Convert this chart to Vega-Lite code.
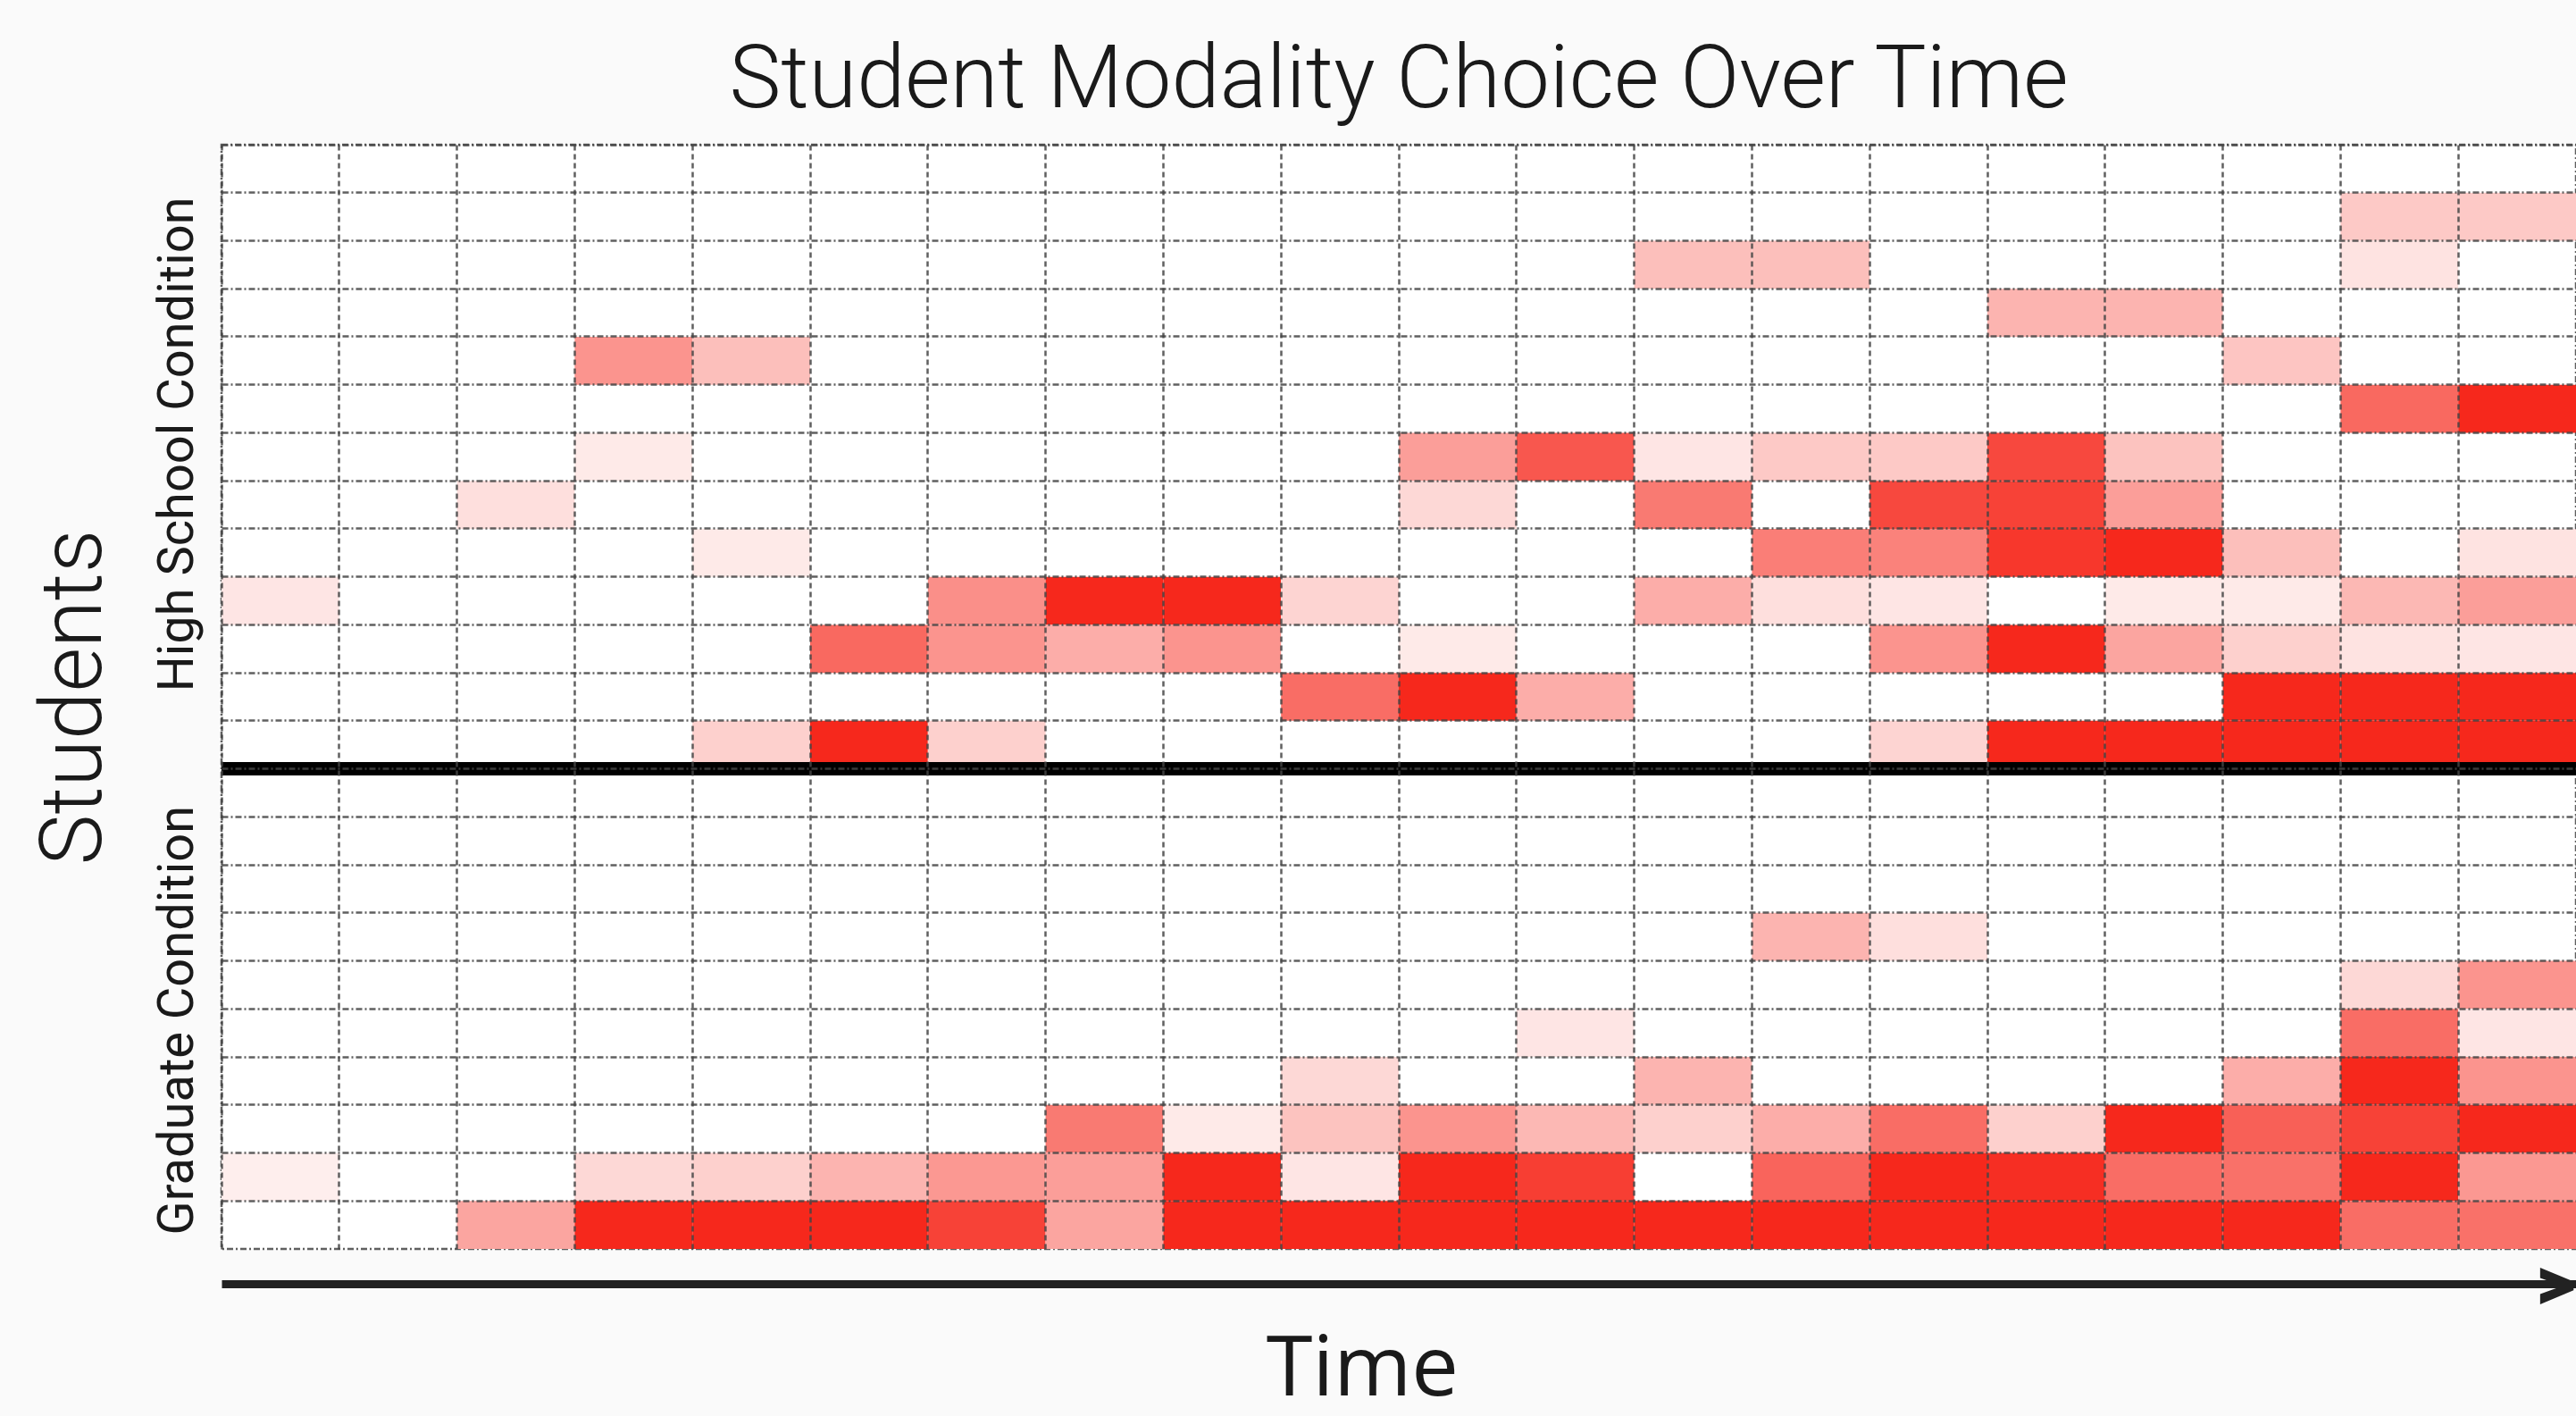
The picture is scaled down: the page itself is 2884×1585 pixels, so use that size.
{
  "$schema": "https://vega.github.io/schema/vega-lite/v6.json",
  "width": 2636,
  "height": 1236,
  "autosize": {"type": "none"},
  "padding": {"left": 248, "top": 162, "right": 0, "bottom": 187},
  "background": "#fafafa",
  "view": {"fill": "white", "stroke": "#444", "strokeDash": [7, 3, 2, 3], "strokeWidth": 2.5, "strokeOpacity": 0.85},
  "title": {"text": "Student Modality Choice Over Time", "font": "Roboto", "fontSize": 97.5, "fontWeight": 300, "color": "#1a1a1a", "frame": "group", "anchor": "middle", "offset": 22},
  "datasets": {
    "cells": [
      {"time": 1, "student": "HS10", "value": 0.12},
      {"time": 3, "student": "HS08", "value": 0.15},
      {"time": 4, "student": "HS05", "value": 0.5},
      {"time": 4, "student": "HS07", "value": 0.1},
      {"time": 5, "student": "HS05", "value": 0.3},
      {"time": 5, "student": "HS09", "value": 0.1},
      {"time": 5, "student": "HS13", "value": 0.22},
      {"time": 6, "student": "HS11", "value": 0.7},
      {"time": 6, "student": "HS13", "value": 1.0},
      {"time": 7, "student": "HS10", "value": 0.52},
      {"time": 7, "student": "HS11", "value": 0.5},
      {"time": 7, "student": "HS13", "value": 0.22},
      {"time": 8, "student": "HS10", "value": 1.0},
      {"time": 8, "student": "HS11", "value": 0.38},
      {"time": 9, "student": "HS10", "value": 1.0},
      {"time": 9, "student": "HS11", "value": 0.5},
      {"time": 10, "student": "HS10", "value": 0.2},
      {"time": 10, "student": "HS12", "value": 0.68},
      {"time": 11, "student": "HS07", "value": 0.45},
      {"time": 11, "student": "HS08", "value": 0.18},
      {"time": 11, "student": "HS11", "value": 0.1},
      {"time": 11, "student": "HS12", "value": 1.0},
      {"time": 12, "student": "HS07", "value": 0.78},
      {"time": 12, "student": "HS12", "value": 0.38},
      {"time": 13, "student": "HS03", "value": 0.3},
      {"time": 13, "student": "HS07", "value": 0.12},
      {"time": 13, "student": "HS08", "value": 0.62},
      {"time": 13, "student": "HS10", "value": 0.38},
      {"time": 14, "student": "HS03", "value": 0.3},
      {"time": 14, "student": "HS07", "value": 0.25},
      {"time": 14, "student": "HS09", "value": 0.6},
      {"time": 14, "student": "HS10", "value": 0.15},
      {"time": 15, "student": "HS07", "value": 0.25},
      {"time": 15, "student": "HS08", "value": 0.85},
      {"time": 15, "student": "HS09", "value": 0.58},
      {"time": 15, "student": "HS10", "value": 0.12},
      {"time": 15, "student": "HS11", "value": 0.5},
      {"time": 15, "student": "HS13", "value": 0.2},
      {"time": 16, "student": "HS04", "value": 0.35},
      {"time": 16, "student": "HS07", "value": 0.85},
      {"time": 16, "student": "HS08", "value": 0.88},
      {"time": 16, "student": "HS09", "value": 0.93},
      {"time": 16, "student": "HS11", "value": 1.0},
      {"time": 16, "student": "HS13", "value": 1.0},
      {"time": 17, "student": "HS04", "value": 0.35},
      {"time": 17, "student": "HS07", "value": 0.28},
      {"time": 17, "student": "HS08", "value": 0.45},
      {"time": 17, "student": "HS09", "value": 1.0},
      {"time": 17, "student": "HS10", "value": 0.1},
      {"time": 17, "student": "HS11", "value": 0.42},
      {"time": 17, "student": "HS13", "value": 1.0},
      {"time": 18, "student": "HS05", "value": 0.27},
      {"time": 18, "student": "HS09", "value": 0.3},
      {"time": 18, "student": "HS10", "value": 0.1},
      {"time": 18, "student": "HS11", "value": 0.22},
      {"time": 18, "student": "HS12", "value": 1.0},
      {"time": 18, "student": "HS13", "value": 1.0},
      {"time": 19, "student": "HS02", "value": 0.25},
      {"time": 19, "student": "HS03", "value": 0.13},
      {"time": 19, "student": "HS06", "value": 0.7},
      {"time": 19, "student": "HS10", "value": 0.33},
      {"time": 19, "student": "HS11", "value": 0.13},
      {"time": 19, "student": "HS12", "value": 1.0},
      {"time": 19, "student": "HS13", "value": 1.0},
      {"time": 20, "student": "HS02", "value": 0.25},
      {"time": 20, "student": "HS06", "value": 1.0},
      {"time": 20, "student": "HS09", "value": 0.13},
      {"time": 20, "student": "HS10", "value": 0.45},
      {"time": 20, "student": "HS11", "value": 0.12},
      {"time": 20, "student": "HS12", "value": 1.0},
      {"time": 20, "student": "HS13", "value": 1.0},
      {"time": 1, "student": "GR09", "value": 0.08},
      {"time": 3, "student": "GR10", "value": 0.42},
      {"time": 4, "student": "GR09", "value": 0.18},
      {"time": 4, "student": "GR10", "value": 1.0},
      {"time": 5, "student": "GR09", "value": 0.22},
      {"time": 5, "student": "GR10", "value": 1.0},
      {"time": 6, "student": "GR09", "value": 0.35},
      {"time": 6, "student": "GR10", "value": 1.0},
      {"time": 7, "student": "GR09", "value": 0.48},
      {"time": 7, "student": "GR10", "value": 0.88},
      {"time": 8, "student": "GR08", "value": 0.62},
      {"time": 8, "student": "GR09", "value": 0.45},
      {"time": 8, "student": "GR10", "value": 0.42},
      {"time": 9, "student": "GR08", "value": 0.1},
      {"time": 9, "student": "GR09", "value": 1.0},
      {"time": 9, "student": "GR10", "value": 1.0},
      {"time": 10, "student": "GR07", "value": 0.18},
      {"time": 10, "student": "GR08", "value": 0.28},
      {"time": 10, "student": "GR09", "value": 0.12},
      {"time": 10, "student": "GR10", "value": 1.0},
      {"time": 11, "student": "GR08", "value": 0.5},
      {"time": 11, "student": "GR09", "value": 1.0},
      {"time": 11, "student": "GR10", "value": 1.0},
      {"time": 12, "student": "GR06", "value": 0.12},
      {"time": 12, "student": "GR08", "value": 0.33},
      {"time": 12, "student": "GR09", "value": 0.9},
      {"time": 12, "student": "GR10", "value": 1.0},
      {"time": 13, "student": "GR07", "value": 0.35},
      {"time": 13, "student": "GR08", "value": 0.22},
      {"time": 13, "student": "GR10", "value": 1.0},
      {"time": 14, "student": "GR04", "value": 0.35},
      {"time": 14, "student": "GR08", "value": 0.38},
      {"time": 14, "student": "GR09", "value": 0.72},
      {"time": 14, "student": "GR10", "value": 1.0},
      {"time": 15, "student": "GR04", "value": 0.15},
      {"time": 15, "student": "GR08", "value": 0.68},
      {"time": 15, "student": "GR09", "value": 1.0},
      {"time": 15, "student": "GR10", "value": 1.0},
      {"time": 16, "student": "GR08", "value": 0.22},
      {"time": 16, "student": "GR09", "value": 0.97},
      {"time": 16, "student": "GR10", "value": 1.0},
      {"time": 17, "student": "GR08", "value": 1.0},
      {"time": 17, "student": "GR09", "value": 0.68},
      {"time": 17, "student": "GR10", "value": 1.0},
      {"time": 18, "student": "GR07", "value": 0.38},
      {"time": 18, "student": "GR08", "value": 0.74},
      {"time": 18, "student": "GR09", "value": 0.66},
      {"time": 18, "student": "GR10", "value": 1.0},
      {"time": 19, "student": "GR05", "value": 0.18},
      {"time": 19, "student": "GR06", "value": 0.68},
      {"time": 19, "student": "GR07", "value": 1.0},
      {"time": 19, "student": "GR08", "value": 0.88},
      {"time": 19, "student": "GR09", "value": 1.0},
      {"time": 19, "student": "GR10", "value": 0.68},
      {"time": 20, "student": "GR05", "value": 0.5},
      {"time": 20, "student": "GR06", "value": 0.12},
      {"time": 20, "student": "GR07", "value": 0.5},
      {"time": 20, "student": "GR08", "value": 1.0},
      {"time": 20, "student": "GR09", "value": 0.48},
      {"time": 20, "student": "GR10", "value": 0.66}
    ],
    "divider": [
      {"student": "GR01"}
    ]
  },
  "layer": [
    {
      "data": {"name": "cells"},
      "mark": {"type": "rect"},
      "encoding": {
        "x": {
          "field": "time", "type": "ordinal",
          "scale": {"domain": [1,2,3,4,5,6,7,8,9,10,11,12,13,14,15,16,17,18,19,20], "paddingInner": 0, "paddingOuter": 0},
          "axis": {
            "title": "Time", "titleFont": "Open Sans", "titleFontSize": 94, "titleFontWeight": 400, "titleColor": "#1a1a1a",
            "titleX": 1277, "titlePadding": 4,
            "bandPosition": 0, "zindex": 1,
            "grid": true, "gridColor": "#444", "gridDash": [6, 4], "gridWidth": 2.5, "gridOpacity": 0.85,
            "ticks": false, "tickSize": 0,
            "domain": true, "domainColor": "#222", "domainWidth": 9, "offset": 39,
            "labels": true, "labelExpr": "datum.value == 20 ? '>' : ''", "labelFont": "Roboto", "labelFontWeight": "bold",
            "labelFontSize": 88, "labelColor": "#222", "labelAngle": 0, "labelAlign": "right", "labelBaseline": "middle",
            "labelPadding": 2, "labelOffset": 66, "labelOverlap": false, "labelBound": false, "labelFlush": false
          }
        },
        "y": {
          "field": "student", "type": "nominal",
          "scale": {"domain": ["HS01","HS02","HS03","HS04","HS05","HS06","HS07","HS08","HS09","HS10","HS11","HS12","HS13","GR01","GR02","GR03","GR04","GR05","GR06","GR07","GR08","GR09","GR10"], "paddingInner": 0, "paddingOuter": 0},
          "axis": {
            "title": "Students", "titleFont": "Roboto", "titleFontSize": 96, "titleFontWeight": 300, "titleColor": "#1a1a1a", "titlePadding": 38,
            "bandPosition": 0, "zindex": 1,
            "grid": true, "gridColor": "#444", "gridDash": [7, 3, 2, 3], "gridWidth": 2.5, "gridOpacity": 0.85,
            "ticks": false, "tickSize": 0, "domain": false,
            "labelExpr": "datum.value == 'HS07' ? 'High School Condition' : datum.value == 'GR06' ? 'Graduate Condition' : ''",
            "labelFont": "Roboto", "labelFontSize": 56, "labelColor": "#1a1a1a", "labelAngle": 270, "labelLimit": 0,
            "labelAlign": "center", "labelBaseline": "bottom", "labelPadding": 21, "labelOffset": -14, "labelOverlap": false
          }
        },
        "color": {
          "field": "value", "type": "quantitative",
          "scale": {"domain": [0, 1], "range": ["#ffffff", "#f6281c"], "interpolate": "rgb"},
          "legend": null
        }
      }
    },
    {
      "data": {"name": "divider"},
      "mark": {"type": "rule", "color": "black", "strokeWidth": 15},
      "encoding": {
        "y": {"field": "student", "type": "nominal", "bandPosition": 0}
      }
    }
  ]
}
